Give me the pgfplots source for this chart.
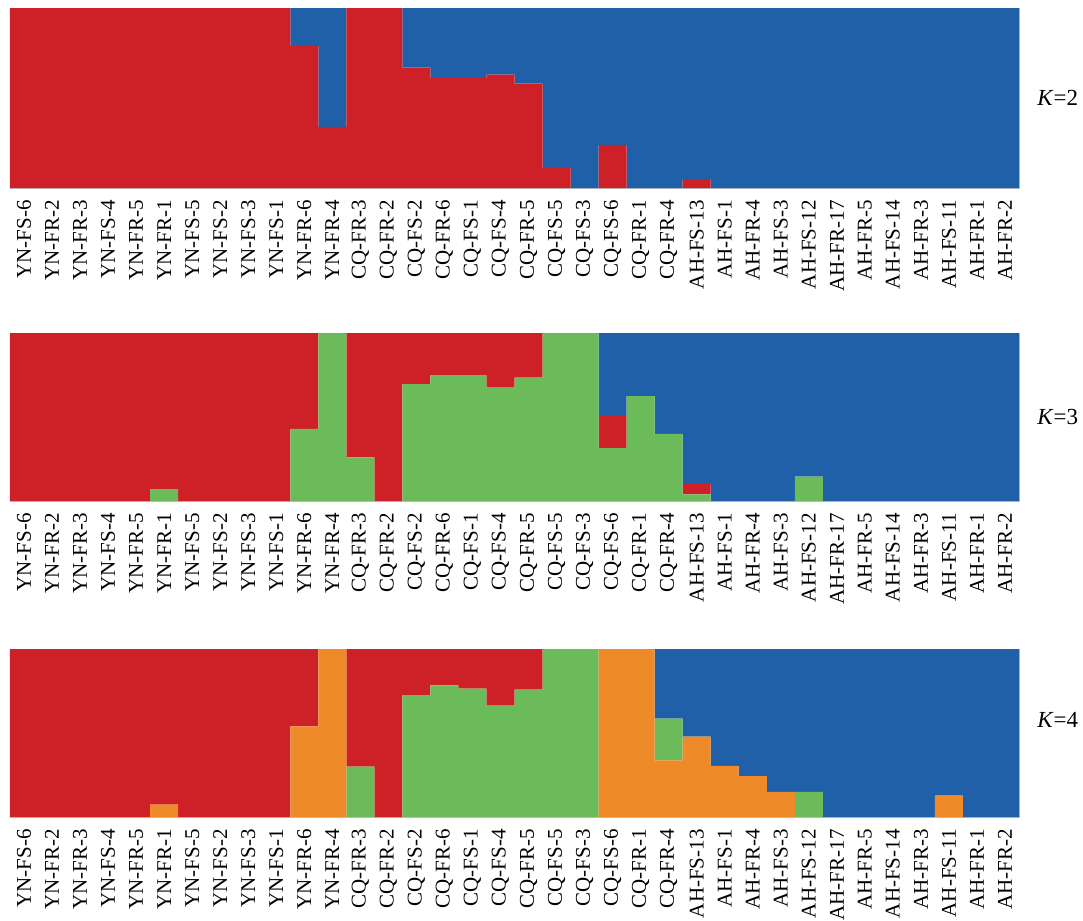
\documentclass[border=0pt]{standalone}
\usepackage{pgfplots}
\pgfplotsset{compat=1.18}
\usepackage{pgfplotstable}
\usepackage{fontspec}
\setmainfont{Liberation Serif}
\definecolor{cred}{RGB}{206,32,39}
\definecolor{cblue}{RGB}{31,96,168}
\definecolor{cgreen}{RGB}{108,187,90}
\definecolor{corange}{RGB}{238,138,40}

\pgfplotstableread{
x red blue
0 1 0
1 1 0
2 1 0
3 1 0
4 1 0
5 1 0
6 1 0
7 1 0
8 1 0
9 1 0
10 0.79 0.21
11 0.34 0.66
12 1 0
13 1 0
14 0.67 0.33
15 0.61 0.39
16 0.61 0.39
17 0.63 0.37
18 0.58 0.42
19 0.11 0.89
20 0 1
21 0.24 0.76
22 0 1
23 0 1
24 0.05 0.95
25 0 1
26 0 1
27 0 1
28 0 1
29 0 1
30 0 1
31 0 1
32 0 1
33 0 1
34 0 1
35 0 1
}\kTwo

\pgfplotstableread{
x green red blue
0 0 1 0
1 0 1 0
2 0 1 0
3 0 1 0
4 0 1 0
5 0.07 0.93 0
6 0 1 0
7 0 1 0
8 0 1 0
9 0 1 0
10 0.43 0.57 0
11 1 0 0
12 0.26 0.74 0
13 0 1 0
14 0.695 0.305 0
15 0.75 0.25 0
16 0.75 0.25 0
17 0.675 0.325 0
18 0.735 0.265 0
19 1 0 0
20 1 0 0
21 0.315 0.196 0.489
22 0.624 0 0.376
23 0.40 0 0.60
24 0.04 0.061 0.899
25 0 0 1
26 0 0 1
27 0 0 1
28 0.145 0 0.855
29 0 0 1
30 0 0 1
31 0 0 1
32 0 0 1
33 0 0 1
34 0 0 1
35 0 0 1
}\kThree

\pgfplotstableread{
x orange green red blue
0 0 0 1 0
1 0 0 1 0
2 0 0 1 0
3 0 0 1 0
4 0 0 1 0
5 0.073 0 0.927 0
6 0 0 1 0
7 0 0 1 0
8 0 0 1 0
9 0 0 1 0
10 0.54 0 0.46 0
11 1 0 0 0
12 0 0.30 0.70 0
13 0 0 1 0
14 0 0.725 0.275 0
15 0 0.784 0.216 0
16 0 0.764 0.236 0
17 0 0.663 0.337 0
18 0 0.758 0.242 0
19 0 1 0 0
20 0 1 0 0
21 1 0 0 0
22 1 0 0 0
23 0.337 0.248 0 0.415
24 0.479 0 0 0.521
25 0.305 0 0 0.695
26 0.244 0 0 0.756
27 0.15 0 0 0.85
28 0 0.15 0 0.85
29 0 0 0 1
30 0 0 0 1
31 0 0 0 1
32 0 0 0 1
33 0.127 0 0 0.873
34 0 0 0 1
35 0 0 0 1
}\kFour

\pgfplotsset{
  strplot/.style={
    scale only axis,
    width=504.5pt,
    ybar stacked,
    bar width=1,
    xmin=-0.5, xmax=35.5,
    ymin=0, ymax=1,
    xtick=data,
    ytick=\empty,
    major tick length=0pt,
    xticklabels={YN-FS-6,YN-FR-2,YN-FR-3,YN-FS-4,YN-FR-5,YN-FR-1,YN-FS-5,YN-FS-2,YN-FS-3,YN-FS-1,YN-FR-6,YN-FR-4,CQ-FR-3,CQ-FR-2,CQ-FS-2,CQ-FR-6,CQ-FS-1,CQ-FS-4,CQ-FR-5,CQ-FS-5,CQ-FS-3,CQ-FS-6,CQ-FR-1,CQ-FR-4,AH-FS-13,AH-FS-1,AH-FR-4,AH-FS-3,AH-FS-12,AH-FR-17,AH-FR-5,AH-FS-14,AH-FR-3,AH-FS-11,AH-FR-1,AH-FR-2},
    xticklabel style={rotate=90, anchor=east, inner sep=0pt, font=\fontsize{10.5}{12}\selectfont},
    xticklabel shift=6pt,
    axis line style={draw=gray!50, line width=0.4pt},
    every axis plot/.append style={draw=none, fill opacity=1},
    clip=false,
  }
}

\begin{document}
\begin{tikzpicture}
\useasboundingbox (0,0) rectangle (541.5pt,-460.5pt);

\begin{axis}[strplot, height=90pt, at={(5pt,-4pt)}, anchor=north west]
\addplot[fill=cred] table[x=x, y=red] {\kTwo};
\addplot[fill=cblue] table[x=x, y=blue] {\kTwo};
\node[anchor=west, inner sep=0pt, font=\fontsize{11.5}{13}\selectfont] at (rel axis cs:1,0.5) [xshift=9pt] {\textit{K}=2};
\end{axis}

\begin{axis}[strplot, height=84pt, at={(5pt,-166.5pt)}, anchor=north west]
\addplot[fill=cgreen] table[x=x, y=green] {\kThree};
\addplot[fill=cred] table[x=x, y=red] {\kThree};
\addplot[fill=cblue] table[x=x, y=blue] {\kThree};
\node[anchor=west, inner sep=0pt, font=\fontsize{11.5}{13}\selectfont] at (rel axis cs:1,0.5) [xshift=9pt] {\textit{K}=3};
\end{axis}

\begin{axis}[strplot, height=84pt, at={(5pt,-324.5pt)}, anchor=north west]
\addplot[fill=corange] table[x=x, y=orange] {\kFour};
\addplot[fill=cgreen] table[x=x, y=green] {\kFour};
\addplot[fill=cred] table[x=x, y=red] {\kFour};
\addplot[fill=cblue] table[x=x, y=blue] {\kFour};
\node[anchor=west, inner sep=0pt, font=\fontsize{11.5}{13}\selectfont] at (rel axis cs:1,0.58) [xshift=9pt] {\textit{K}=4};
\end{axis}
\end{tikzpicture}
\end{document}
